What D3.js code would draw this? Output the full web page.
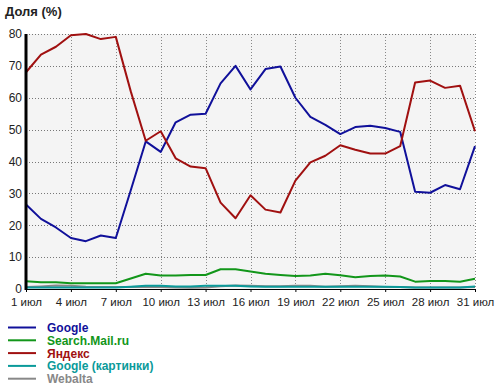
<!DOCTYPE html>
<html>
<head>
<meta charset="utf-8">
<script src="https://cdn.jsdelivr.net/npm/d3@7"></script>
<style>
  body { margin: 0; background: #fff; }
  svg text { font-family: "Liberation Sans", Arial, sans-serif; }
</style>
</head>
<body>
<svg id="chart" width="500" height="389"></svg>
<script>
// days of July
const days = d3.range(1, 32);
const tickDays = [1, 4, 7, 10, 13, 16, 19, 22, 25, 28, 31];
const yTicks = [0, 10, 20, 30, 40, 50, 60, 70, 80];

const google = [26.5, 22, 19.3, 16, 15, 16.8, 16, 31, 46.3, 43, 52.3, 54.7, 55, 64.5, 70, 62.6,
  69, 69.8, 60, 54, 51.5, 48.6, 50.8, 51.2, 50.5, 49.3, 30.5, 30.2, 32.6, 31.3, 44.8];
const searchMail = [2.4, 2.1, 2.1, 1.8, 1.8, 1.8, 1.8, 3.3, 4.8, 4.2, 4.2, 4.4, 4.4, 6.2, 6.2, 5.5,
  4.8, 4.4, 4.1, 4.2, 4.8, 4.3, 3.7, 4.1, 4.2, 3.9, 2.3, 2.5, 2.5, 2.3, 3.2];
const yandex = [68, 73.5, 76, 79.6, 80, 78.4, 79.1, 62, 46.5, 49.5, 41, 38.4, 37.9, 27.1, 22.2, 29.4,
  24.9, 24, 34, 39.7, 41.8, 45.1, 43.7, 42.5, 42.5, 44.8, 64.8, 65.4, 63.1, 63.8, 49.5];
const googleImg = [0.5, 0.5, 0.5, 0.5, 0.5, 0.5, 0.5, 0.7, 1, 1, 0.8, 0.8, 1, 1, 1, 0.8,
  0.7, 0.7, 0.7, 0.7, 0.7, 0.7, 0.7, 0.7, 0.7, 0.6, 0.5, 0.5, 0.5, 0.5, 0.8];
const webalta = [0.6, 0.8, 1.1, 1, 0.7, 0.6, 0.6, 0.6, 0.7, 0.6, 0.5, 0.4, 0.5, 0.9, 1.1, 1,
  0.9, 0.9, 1, 1, 0.7, 0.9, 1, 0.9, 0.6, 0.6, 0.5, 0.5, 0.5, 0.5, 0.6];

const seriesNames = ["Google", "Search.Mail.ru", "Яндекс", "Google (картинки)", "Webalta"];
const seriesColors = ["#10109a", "#12961a", "#a01010", "#0a9a9a", "#888888"];
const seriesValues = [google, searchMail, yandex, googleImg, webalta];

const svg = d3.select("#chart");
const mLeft = 26, mRight = 475, mTop = 34, mBottom = 289;

const x = d3.scaleLinear().domain([1, 31]).range([mLeft, mRight]);
const y = d3.scaleLinear().domain([0, 80]).range([mBottom, mTop]);

// plot background
svg.append("rect")
  .attr("x", mLeft).attr("y", mTop)
  .attr("width", mRight - mLeft).attr("height", mBottom - mTop)
  .attr("fill", "#f4f4f4");

// grid
svg.append("g")
  .selectAll("line")
  .data(yTicks.filter(d => d > 0))
  .enter().append("line")
  .attr("x1", mLeft).attr("x2", mRight)
  .attr("y1", d => Math.round(y(d)) + 0.5).attr("y2", d => Math.round(y(d)) + 0.5)
  .attr("stroke", "#777").attr("stroke-dasharray", "1,2");

svg.append("g")
  .selectAll("line")
  .data(tickDays.slice(1))
  .enter().append("line")
  .attr("x1", d => Math.round(x(d)) + 0.5).attr("x2", d => Math.round(x(d)) + 0.5)
  .attr("y1", mTop).attr("y2", mBottom)
  .attr("stroke", "#888").attr("stroke-dasharray", "1,2");

// series lines, drawn bottom-up
const line = d3.line()
  .x((d, i) => x(days[i]))
  .y(d => y(d));

const order = [4, 3, 1, 0, 2];
svg.append("g")
  .selectAll("path")
  .data(order)
  .enter().append("path")
  .attr("d", i => line(seriesValues[i]))
  .attr("fill", "none")
  .attr("stroke", i => seriesColors[i])
  .attr("stroke-width", 2)
  .attr("stroke-linejoin", "round");

// axes
const yAxis = d3.axisLeft(y).tickValues(yTicks).tickSize(0).tickPadding(4);
const yG = svg.append("g").attr("transform", `translate(${mLeft},0)`).call(yAxis);
yG.select(".domain").remove();
yG.selectAll("text").attr("font-size", 12).attr("fill", "#222")
  .style("font-family", "'Liberation Sans', Arial, sans-serif");

const xAxis = d3.axisBottom(x).tickValues(tickDays).tickSize(3).tickPadding(6)
  .tickFormat(d => d + " июл");
const xG = svg.append("g").attr("transform", `translate(0,${mBottom})`).call(xAxis);
xG.select(".domain").remove();
xG.selectAll("line").attr("stroke", "#000");
xG.selectAll("text").attr("font-size", 11.5).attr("fill", "#222")
  .style("font-family", "'Liberation Sans', Arial, sans-serif");

svg.append("line")
  .attr("x1", mLeft).attr("x2", mRight)
  .attr("y1", mBottom + 0.5).attr("y2", mBottom + 0.5)
  .attr("stroke", "#000");
svg.append("line")
  .attr("x1", mLeft).attr("x2", mLeft)
  .attr("y1", mTop).attr("y2", mBottom + 1)
  .attr("stroke", "#000").attr("stroke-width", 3);

// title
svg.append("text")
  .attr("x", 5).attr("y", 16)
  .attr("font-size", 13).attr("font-weight", "bold").attr("fill", "#222")
  .text("Доля (%)");

// legend
const legend = svg.append("g")
  .selectAll("g")
  .data(seriesNames)
  .enter().append("g")
  .attr("transform", (d, i) => `translate(0,${327 + i * 12.8})`);

legend.append("line")
  .attr("x1", 8).attr("x2", 36)
  .attr("y1", 0.5).attr("y2", 0.5)
  .attr("stroke", (d, i) => seriesColors[i])
  .attr("stroke-width", 2);

legend.append("text")
  .attr("x", 47).attr("y", 5)
  .attr("font-size", 12).attr("font-weight", "bold")
  .attr("fill", (d, i) => seriesColors[i])
  .text(d => d);
</script>
</body>
</html>
